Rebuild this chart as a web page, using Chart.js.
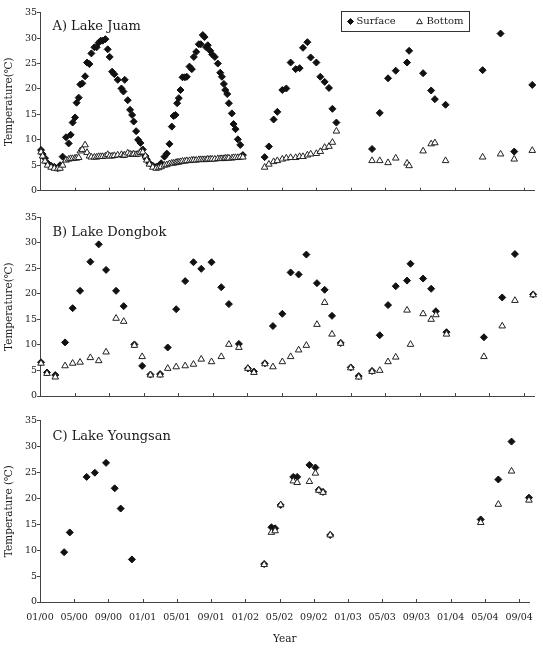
<!DOCTYPE html>
<html><head><meta charset="utf-8">
<script src="https://cdn.jsdelivr.net/npm/chart.js@4.4.1/dist/chart.umd.min.js"></script>
<style>
html,body{margin:0;padding:0;background:#fff;}
canvas{display:block;}
</style></head><body>
<canvas id="cA" width="543" height="200"></canvas>
<canvas id="cB" width="543" height="210"></canvas>
<canvas id="cC" width="543" height="244"></canvas>
<script>
// x values: months since January 2000
const xTickMonths = [0,4,8,12,16,20,24,28,32,36,40,44,48,52,56];
const xTickLabels = ['01/00','05/00','09/00','01/01','05/01','09/01','01/02','05/02','09/02','01/03','05/03','09/03','01/04','05/04','09/04'];
const yTickValues = [0,5,10,15,20,25,30,35];
const yTickLabels = ['0','5','10','15','20','25','30','35'];

// A) Lake Juam
const juamMonths = [0.12,0.30,0.58,0.88,1.28,1.66,2.04,2.32,2.62,3.01,
 3.32,3.55,3.78,4.06,4.24,4.48,4.67,4.90,5.22,5.45,
 5.72,5.95,6.30,6.56,6.79,7.03,7.26,7.57,7.84,8.07,
 8.35,8.61,9.00,9.43,9.66,9.81,10.16,10.43,10.67,10.85,
 11.13,11.36,11.63,11.90,12.21,12.36,12.67,13.06,13.45,13.75,
 14.03,14.41,14.68,14.99,15.26,15.46,15.69,15.88,16.07,16.27,
 16.50,16.77,17.00,17.31,17.58,17.81,18.09,18.39,18.62,18.85,
 19.05,19.25,19.43,19.71,19.94,20.24,20.59,20.87,21.06,21.29,
 21.45,21.68,21.87,22.21,22.41,22.64,22.91,23.19,23.49,
 26.01,26.50,27.05,27.48,28.06,28.52,29.02,29.60,30.06,30.45,30.96,31.34,32.00,32.46,32.96,33.46,33.86,34.32,
 38.45,39.34,40.30,41.19,42.50,42.74,44.36,45.29,45.72,46.96,
 51.25,53.33,54.91,57.00];
const juamSurface = [8.0,7.2,6.4,5.4,4.9,4.7,4.4,5.0,6.7,10.5,
 9.3,11.0,13.4,14.4,17.3,18.3,20.9,21.1,22.5,25.2,
 24.9,27.0,28.2,28.2,29.1,29.5,29.5,29.8,27.8,26.3,
 23.4,22.9,21.8,20.1,19.5,21.8,17.8,15.9,14.9,13.6,
 11.7,10.0,9.4,8.1,6.8,6.2,5.4,4.9,4.7,4.9,
 5.4,6.7,7.3,9.2,12.6,14.7,14.9,17.2,18.2,19.8,
 22.3,22.3,22.4,24.4,23.9,26.3,27.3,28.8,28.8,30.6,
 30.2,28.2,28.6,27.5,26.8,26.3,25.0,23.2,22.4,21.0,
 19.8,19.0,17.2,15.2,13.1,12.1,10.1,9.0,7.0,
 6.6,8.7,14.0,15.5,19.8,20.1,25.2,23.9,24.1,28.1,29.2,26.2,25.2,22.4,21.4,20.2,16.1,13.4,
 8.2,15.3,22.1,23.6,25.2,27.5,23.1,19.7,18.0,16.9,
 23.7,30.9,7.7,20.8];
const juamBottom = [7.6,6.8,5.8,5.0,4.6,4.4,4.3,4.4,5.0,6.0,
 6.2,6.3,6.3,6.4,6.4,6.5,7.8,8.1,9.0,7.5,
 6.8,6.6,6.6,6.6,6.7,6.7,6.7,6.8,7.1,6.8,
 6.8,6.9,7.0,7.1,6.9,7.0,7.4,7.2,7.1,7.2,
 7.1,7.2,7.5,7.6,6.8,6.0,5.2,4.6,4.4,4.5,
 4.7,5.0,5.1,5.3,5.4,5.4,5.5,5.6,5.6,5.7,
 5.8,5.8,5.9,5.9,6.0,6.0,6.0,6.1,6.1,6.1,
 6.1,6.1,6.2,6.2,6.2,6.2,6.3,6.3,6.3,6.3,
 6.4,6.4,6.4,6.4,6.5,6.5,6.5,6.6,6.6,
 4.6,5.2,5.7,5.9,6.2,6.4,6.5,6.5,6.7,6.7,7.0,7.2,7.3,7.7,8.5,8.7,9.5,11.7,
 5.9,5.9,5.5,6.4,5.4,4.9,7.8,9.2,9.4,5.9,
 6.6,7.2,6.2,7.9];

// B) Lake Dongbok
const dongbokMonths = [0.12,0.81,1.77,2.90,3.78,4.64,5.83,6.8,7.65,8.81,
 9.69,10.93,11.83,12.79,13.91,14.79,15.77,16.81,17.77,18.67,
 19.86,20.99,21.87,23.03,24.07,24.77,26.04,26.97,28.06,29.02,
 29.95,30.84,32.07,32.96,33.81,34.82,35.98,36.90,38.45,39.34,
 40.30,41.19,42.50,42.90,44.36,45.29,45.84,47.07,51.40,53.52,
 54.99,57.10];
const dongbokSurface = [6.6,4.6,4.1,10.5,17.2,20.6,26.3,29.7,24.7,20.6,
 17.6,10.1,5.9,4.2,4.3,9.5,17.0,22.5,26.2,24.9,
 26.2,21.3,18.0,10.2,5.4,4.8,6.4,13.7,16.1,24.2,
 23.8,27.7,22.1,20.8,15.7,10.4,5.6,3.9,4.9,11.9,
 17.8,21.5,22.6,25.9,23.0,21.0,16.6,12.5,11.5,19.3,
 27.8,19.9];
const dongbokBottom = [6.4,4.4,3.7,5.9,6.4,6.6,7.5,6.9,8.6,15.2,
 14.6,9.9,7.7,4.1,4.1,5.4,5.7,5.9,6.2,7.2,
 6.7,7.7,10.1,9.5,5.4,4.6,6.3,5.7,6.7,7.7,
 9.0,9.9,14.0,18.3,12.1,10.3,5.5,3.7,4.8,5.0,
 6.7,7.6,16.8,10.1,16.1,15.0,15.9,12.1,7.7,13.7,
 18.7,19.8];

// C) Lake Youngsan
const youngsanMonths = [2.82,3.48,5.45,6.41,7.72,8.73,9.43,10.74,
 26.20,27.05,27.48,28.13,29.60,30.06,31.49,32.19,32.58,33.08,33.92,
 51.51,53.57,55.11,57.15];
const youngsanSurface = [9.6,13.4,24.1,24.9,26.8,21.9,18.0,8.2,
 7.3,14.4,14.2,18.7,24.1,24.1,26.4,25.9,21.6,21.2,12.9,
 15.9,23.6,30.9,20.1];
const youngsanBottom = [null,null,null,null,null,null,null,null,
 7.2,13.4,13.7,18.7,23.3,23.0,23.2,24.8,21.5,21.1,12.9,
 15.3,18.8,25.2,19.6];

const FONT = "'DejaVu Serif', 'Liberation Serif', serif";
const AXIS = '#444';
const TXT = '#1a1a1a';

function pts(months, vals){
  return months.map((m,i)=>({x:m, y:vals[i]})).filter(p=>p.y!==null);
}

function marker(ctx, style, r, x, y, fill, stroke){
  ctx.save();
  ctx.fillStyle = fill; ctx.strokeStyle = stroke; ctx.lineWidth = 1;
  if (Chart.helpers && Chart.helpers.drawPoint) {
    Chart.helpers.drawPoint(ctx, {pointStyle: style, radius: r, borderWidth: 1, rotation: 0}, x, y);
  }
  ctx.restore();
}

const decor = {
  id: 'decor',
  afterDraw(chart, args, opts){
    const ctx = chart.ctx, a = chart.chartArea, xs = chart.scales.x;
    ctx.save();
    ctx.strokeStyle = AXIS; ctx.lineWidth = 1;
    xs.ticks.forEach(t=>{
      const px = Math.round(xs.getPixelForValue(t.value)) + 0.5;
      ctx.beginPath(); ctx.moveTo(px, a.bottom); ctx.lineTo(px, a.bottom - 3); ctx.stroke();
    });
    ctx.fillStyle = TXT;
    ctx.font = '13px ' + FONT;
    ctx.textBaseline = 'alphabetic';
    ctx.textAlign = 'left';
    ctx.fillText(opts.title, a.left + 12.5, a.top + opts.titleDy);
    if (opts.legend) {
      ctx.strokeStyle = '#333';
      ctx.strokeRect(341.5, 11.5, 128, 20);
      marker(ctx, 'rectRot', 3, 350.5, 21.5, '#111', '#111');
      marker(ctx, 'triangle', 3.3, 419.5, 22, '#fff', '#222');
      ctx.fillStyle = TXT;
      ctx.font = '10px ' + FONT;
      ctx.textBaseline = 'middle';
      ctx.fillText('Surface', 356.5, 21.5);
      ctx.fillText('Bottom', 426.5, 21.5);
    }
    ctx.restore();
  }
};

function makePanel(id, p){
  new Chart(document.getElementById(id), {
    type: 'scatter',
    data: {
      datasets: [
        {label: 'Surface', data: pts(p.months, p.surface), pointStyle: 'rectRot', pointRadius: 3.5,
         backgroundColor: '#111', borderColor: '#111', borderWidth: 1, order: 2, clip: false},
        {label: 'Bottom', data: pts(p.months, p.bottom), pointStyle: 'triangle', pointRadius: 3.8,
         backgroundColor: '#fff', borderColor: '#222', borderWidth: 1, order: 1, clip: false}
      ]
    },
    options: {
      responsive: false, animation: false, devicePixelRatio: 1,
      layout: {padding: {top: p.padTop, right: 9, left: 0, bottom: 0}},
      plugins: {
        legend: {display: false}, tooltip: {enabled: false},
        decor: {title: p.title, titleDy: p.titleDy, legend: !!p.legend}
      },
      scales: {
        x: {
          type: 'linear', min: 0, max: 57.2,
          afterBuildTicks: s => { s.ticks = xTickMonths.map(v => ({value: v})); },
          afterFit: s => { s.height = p.xHeight; },
          grid: {display: true, drawOnChartArea: false, drawTicks: false},
          border: {display: true, color: AXIS, width: 1},
          ticks: {display: !!p.showX, padding: 10, color: TXT, font: {family: FONT, size: 9.5},
                  maxRotation: 0, autoSkip: false, callback: (v, i) => xTickLabels[i]},
          title: {display: !!p.showX, text: 'Year', color: TXT, font: {family: FONT, size: 10.5},
                  padding: {top: 0, bottom: 8}}
        },
        y: {
          min: 0, max: 35,
          afterBuildTicks: s => { s.ticks = yTickValues.map(v => ({value: v})); },
          afterFit: s => { s.width = 40; },
          grid: {drawOnChartArea: false, drawTicks: true, tickLength: 3, color: AXIS},
          border: {display: true, color: AXIS, width: 1},
          ticks: {padding: 0, color: TXT, font: {family: FONT, size: 9.5}, callback: (v, i) => yTickLabels[i]},
          title: {display: true, text: p.yTitle, color: TXT, font: {family: FONT, size: 10.5},
                  padding: {top: 2.5, bottom: 0}}
        }
      }
    },
    plugins: [decor]
  });
}

makePanel('cA', {months: juamMonths, surface: juamSurface, bottom: juamBottom,
  title: 'A) Lake Juam', titleDy: 17, yTitle: 'Temperature(\u2103)', padTop: 12.7, xHeight: 9.3, legend: true});
makePanel('cB', {months: dongbokMonths, surface: dongbokSurface, bottom: dongbokBottom,
  title: 'B) Lake Dongbok', titleDy: 19, yTitle: 'Temperature(\u2103)', padTop: 17.3, xHeight: 14});
makePanel('cC', {months: youngsanMonths, surface: youngsanSurface, bottom: youngsanBottom,
  title: 'C) Lake Youngsan', titleDy: 20, yTitle: 'Temperature (\u2103)', padTop: 10.3, xHeight: 52, showX: true});
</script>
</body></html>
